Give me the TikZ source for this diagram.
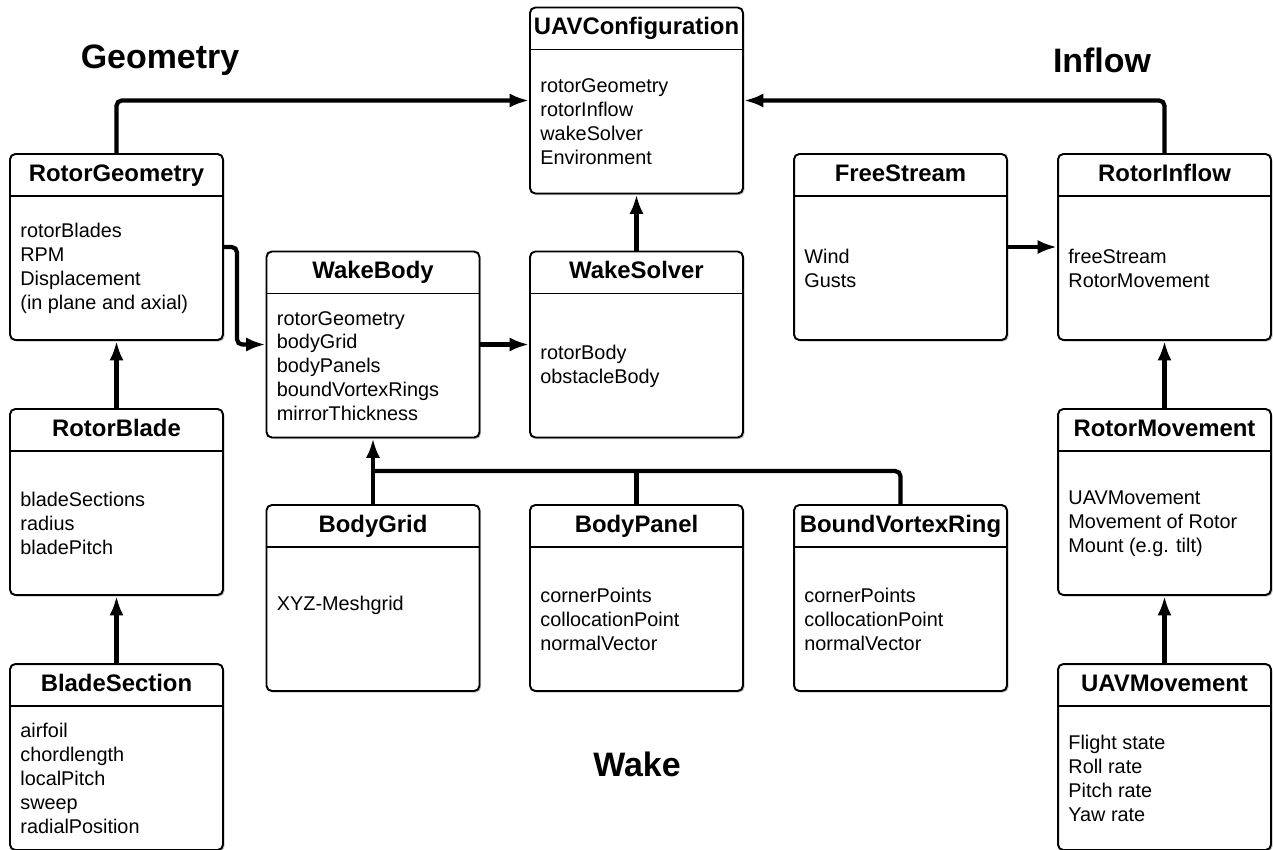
\documentclass[tikz,border=0pt]{standalone}
\usepackage{fontspec}
\setmainfont{Liberation Sans}
\usetikzlibrary{arrows.meta}
\usetikzlibrary{shadows}
\tikzset{>={Latex[length=11pt,width=8pt]}}
\definecolor{shadowgray}{RGB}{90,90,90}
\tikzstyle{classbox}=[draw=black,line width=1.1pt,rounded corners=3pt,minimum width=4.26cm,minimum height=3.72cm,inner sep=0pt,fill=white,drop shadow={shadow xshift=0.9pt,shadow yshift=-0.9pt,fill=shadowgray,opacity=0.35}]
\tikzstyle{classtitle}=[font=\fontsize{13.6}{16}\selectfont\bfseries,inner sep=0pt,anchor=base]
\tikzstyle{classbody}=[font=\fontsize{11.3}{13.6}\selectfont,align=left,anchor=west,inner sep=0pt]
\tikzstyle{divider}=[draw=black,line width=0.8pt]
\tikzstyle{link}=[draw=black,line width=2.4pt,rounded corners=3pt]
\tikzstyle{heading}=[font=\fontsize{19.3}{23}\selectfont\bfseries]

\begin{document}
\begin{tikzpicture}[x=0.02cm,y=-0.02cm]
  \useasboundingbox (0,0) rectangle (1273,849);

  % geometry column
  \node[classbox] (geo) at (116.5,247) {};
  \node[classtitle] (geo-t) at ([yshift=-0.56cm]geo.north) {RotorGeometry};
  \draw[divider] ([yshift=-0.86cm]geo.north west) -- ([yshift=-0.86cm]geo.north east);
  \node[classbody] (geo-b) at ([xshift=0.22cm,yshift=-0.43cm]geo.west) {rotorBlades\\RPM\\Displacement\\(in plane and axial)};

  \node[classbox] (blade) at (116.5,502) {};
  \node[classtitle] (blade-t) at ([yshift=-0.56cm]blade.north) {RotorBlade};
  \draw[divider] ([yshift=-0.86cm]blade.north west) -- ([yshift=-0.86cm]blade.north east);
  \node[classbody] (blade-b) at ([xshift=0.22cm,yshift=-0.43cm]blade.west) {bladeSections\\radius\\bladePitch};

  \node[classbox] (section) at (116.5,757) {};
  \node[classtitle] (section-t) at ([yshift=-0.56cm]section.north) {BladeSection};
  \draw[divider] ([yshift=-0.86cm]section.north west) -- ([yshift=-0.86cm]section.north east);
  \node[classbody] (section-b) at ([xshift=0.22cm,yshift=-0.43cm]section.west) {airfoil\\chordlength\\localPitch\\sweep\\radialPosition};

  % top
  \node[classbox] (conf) at (636.5,100.5) {};
  \node[classtitle] (conf-t) at ([yshift=-0.56cm]conf.north) {UAVConfiguration};
  \draw[divider] ([yshift=-0.86cm]conf.north west) -- ([yshift=-0.86cm]conf.north east);
  \node[classbody] (conf-b) at ([xshift=0.22cm,yshift=-0.43cm]conf.west) {rotorGeometry\\rotorInflow\\wakeSolver\\Environment};

  % wake
  \node[classbox] (wakebody) at (373,344.5) {};
  \node[classtitle] (wakebody-t) at ([yshift=-0.56cm]wakebody.north) {WakeBody};
  \draw[divider] ([yshift=-0.86cm]wakebody.north west) -- ([yshift=-0.86cm]wakebody.north east);
  \node[classbody] (wakebody-b) at ([xshift=0.22cm,yshift=-0.43cm]wakebody.west) {rotorGeometry\\bodyGrid\\bodyPanels\\boundVortexRings\\mirrorThickness};

  \node[classbox] (solver) at (636.5,344.5) {};
  \node[classtitle] (solver-t) at ([yshift=-0.56cm]solver.north) {WakeSolver};
  \draw[divider] ([yshift=-0.86cm]solver.north west) -- ([yshift=-0.86cm]solver.north east);
  \node[classbody] (solver-b) at ([xshift=0.22cm,yshift=-0.43cm]solver.west) {rotorBody\\obstacleBody};

  \node[classbox] (grid) at (373,598) {};
  \node[classtitle] (grid-t) at ([yshift=-0.56cm]grid.north) {BodyGrid};
  \draw[divider] ([yshift=-0.86cm]grid.north west) -- ([yshift=-0.86cm]grid.north east);
  \node[classbody] (grid-b) at ([xshift=0.22cm,yshift=-0.15cm]grid.west) {XYZ-Meshgrid};

  \node[classbox] (panel) at (636.5,598) {};
  \node[classtitle] (panel-t) at ([yshift=-0.56cm]panel.north) {BodyPanel};
  \draw[divider] ([yshift=-0.86cm]panel.north west) -- ([yshift=-0.86cm]panel.north east);
  \node[classbody] (panel-b) at ([xshift=0.22cm,yshift=-0.43cm]panel.west) {cornerPoints\\collocationPoint\\normalVector};

  \node[classbox] (ring) at (900.5,598) {};
  \node[classtitle] (ring-t) at ([yshift=-0.56cm]ring.north) {BoundVortexRing};
  \draw[divider] ([yshift=-0.86cm]ring.north west) -- ([yshift=-0.86cm]ring.north east);
  \node[classbody] (ring-b) at ([xshift=0.22cm,yshift=-0.43cm]ring.west) {cornerPoints\\collocationPoint\\normalVector};

  % inflow column
  \node[classbox] (free) at (900.5,247) {};
  \node[classtitle] (free-t) at ([yshift=-0.56cm]free.north) {FreeStream};
  \draw[divider] ([yshift=-0.86cm]free.north west) -- ([yshift=-0.86cm]free.north east);
  \node[classbody] (free-b) at ([xshift=0.22cm,yshift=-0.43cm]free.west) {Wind\\Gusts};

  \node[classbox] (inflow) at (1164.5,247) {};
  \node[classtitle] (inflow-t) at ([yshift=-0.56cm]inflow.north) {RotorInflow};
  \draw[divider] ([yshift=-0.86cm]inflow.north west) -- ([yshift=-0.86cm]inflow.north east);
  \node[classbody] (inflow-b) at ([xshift=0.22cm,yshift=-0.43cm]inflow.west) {freeStream\\RotorMovement};

  \node[classbox] (movement) at (1164.5,502) {};
  \node[classtitle] (movement-t) at ([yshift=-0.56cm]movement.north) {RotorMovement};
  \draw[divider] ([yshift=-0.86cm]movement.north west) -- ([yshift=-0.86cm]movement.north east);
  \node[classbody] (movement-b) at ([xshift=0.22cm,yshift=-0.43cm]movement.west) {UAVMovement\\Movement of Rotor\\Mount (e.g. tilt)};

  \node[classbox] (uavmove) at (1164.5,757) {};
  \node[classtitle] (uavmove-t) at ([yshift=-0.56cm]uavmove.north) {UAVMovement};
  \draw[divider] ([yshift=-0.86cm]uavmove.north west) -- ([yshift=-0.86cm]uavmove.north east);
  \node[classbody] (uavmove-b) at ([xshift=0.22cm,yshift=-0.43cm]uavmove.west) {Flight state\\Roll rate\\Pitch rate\\Yaw rate};

  % group headings
  \node[heading] (geomlabel) at (160,60) {Geometry};
  \node[heading] (inflowlabel) at (1102,60) {Inflow};
  \node[heading] (wakelabel) at (637,764) {Wake};

  % connectors
  \draw[link,->] (geo.north) |- (conf.west);
  \draw[link,->] (inflow.north) |- (conf.east);
  \draw[link,->] (solver.north) -- (conf.south);
  \draw[link,->] (geo.east) -- ++(13,0) |- (wakebody.west);
  \draw[link,->] (wakebody.east) -- (solver.west);
  \draw[link,->] (free.east) -- (inflow.west);
  \draw[link,->] (blade.north) -- (geo.south);
  \draw[link,->] (section.north) -- (blade.south);
  \draw[link,->] (movement.north) -- (inflow.south);
  \draw[link,->] (uavmove.north) -- (movement.south);

  \coordinate (branch) at (373,471);
  \draw[link,->] (grid.north) -- (wakebody.south);
  \draw[link] (ring.north) |- (branch);
  \draw[link] (panel.north) -- (panel.north |- branch);
\end{tikzpicture}
\end{document}
